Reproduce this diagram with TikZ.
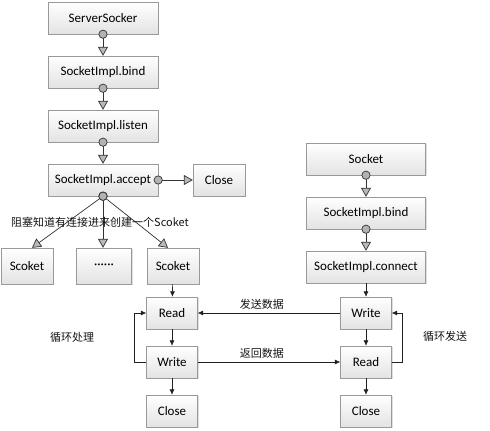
\documentclass[tikz,border=0pt]{standalone}
\usepackage{fontspec}
\setmainfont{Carlito}
\newfontfamily\cjkfont{Noto Sans CJK SC}
\usetikzlibrary{arrows.meta,shadows}

\begin{document}
\begin{tikzpicture}[x=1pt, y=-1pt,
        box/.style={draw=gray!80, top color=white, bottom color=gray!22,
            drop shadow={opacity=0.25, shadow xshift=1.2pt, shadow yshift=-1.2pt},
            minimum height=32pt, inner sep=2pt, font=\fontsize{13}{15}\selectfont},
        wide/.style={box, minimum width=110pt},
        small/.style={box, minimum width=51pt},
        sockbox/.style={box, minimum width=52pt, minimum height=36pt},
        link/.style={draw=gray!40!black, line width=0.7pt, shorten <=-4.5pt,
            {Circle[length=9pt, fill=gray!60]}-{Triangle[length=9pt, width=10pt, fill=gray!55]}},
        flow/.style={draw=gray!25!black, line width=0.6pt, -{Latex[length=5.5pt, width=5pt]}},
        note/.style={font=\cjkfont\fontsize{11}{13}\selectfont, text=gray!15!black}]
    \useasboundingbox (0, 0) rectangle (490, 431);

    % server side
    \node[wide] (server) at (103, 18) {ServerSocker};
    \node[wide] (sbind) at (103, 72) {SocketImpl.bind};
    \node[wide] (listen) at (103, 126) {SocketImpl.listen};
    \node[wide] (accept) at (103, 180) {SocketImpl.accept};
    \node[box, minimum width=52pt] (sclose) at (219, 180) {Close};

    \node[sockbox] (sock1) at (27, 266) {Scoket};
    \node[sockbox, minimum width=55pt] (sockn) at (104, 266) {······};
    \node[sockbox] (sock2) at (173, 266) {Scoket};

    \node[small] (sread) at (172, 313) {Read};
    \node[small] (swrite) at (172, 362) {Write};
    \node[small] (sclose2) at (172, 411) {Close};

    % client side
    \node[box, minimum width=119pt] (client) at (366, 159) {Socket};
    \node[box, minimum width=119pt] (cbind) at (366, 213) {SocketImpl.bind};
    \node[box, minimum width=119pt] (connect) at (366, 267) {SocketImpl.connect};

    \node[small] (cwrite) at (366, 313) {Write};
    \node[small] (cread) at (366, 362) {Read};
    \node[small] (cclose) at (366, 411) {Close};

    % server chain
    \draw[link] (server) -- (sbind);
    \draw[link] (sbind) -- (listen);
    \draw[link] (listen) -- (accept);
    \draw[link] (accept) -- (sclose);
    \draw[link] (accept.south) -- ([xshift=5pt]sock1.north);
    \draw[link] (accept.south) -- ([xshift=-1pt]sockn.north);
    \draw[link] (accept.south) -- ([xshift=-5pt]sock2.north);
    \node[note] (block) at (100, 222) {阻塞知道有连接进来创建一个Scoket};

    \draw[flow] (sock2) -- (sread);
    \draw[flow] (sread) -- (swrite);
    \draw[flow] (swrite) -- (sclose2);
    \draw[flow] (swrite.west) -- ++(-12, 0) |- (sread.west);
    \node[note] (sloop) at (72, 337) {循环处理};

    % client chain
    \draw[link] (client) -- (cbind);
    \draw[link] (cbind) -- (connect);
    \draw[flow] (connect) -- (cwrite);
    \draw[flow] (cwrite) -- (cread);
    \draw[flow] (cread) -- (cclose);
    \draw[flow] (cread.east) -- ++(11, 0) |- (cwrite.east);
    \node[note] (cloop) at (445, 336) {循环发送};

    % data exchange
    \draw[flow] (cwrite) -- node[note, pos=0.55, above] {发送数据} (sread);
    \draw[flow] (swrite) -- node[note, pos=0.45, above] {返回数据} (cread);
\end{tikzpicture}
\end{document}
